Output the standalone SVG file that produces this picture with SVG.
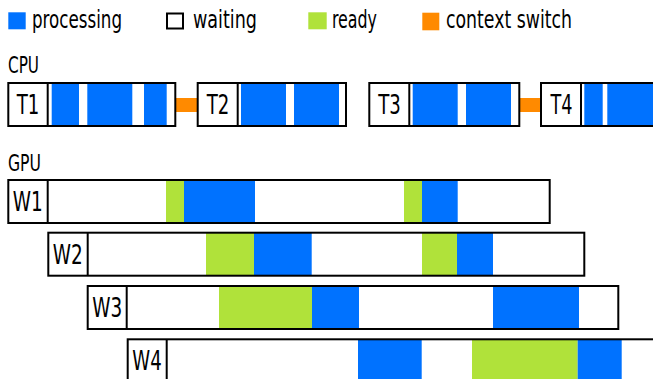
<svg xmlns="http://www.w3.org/2000/svg" width="653" height="379" viewBox="0 0 653 379">
<style>
text{font-family:"DejaVu Sans Condensed","DejaVu Sans",sans-serif;font-stretch:condensed;fill:#000}
.lg{font-size:24px}
.hd{font-size:22.5px}
.lb{font-size:27px;text-anchor:middle}
.p{fill:#0072ff}
.r{fill:#b0e23a}
.c{fill:#ff8a00}
.box{fill:none;stroke:#000;stroke-width:2}
.bg{fill:#fff}
.dv{stroke:#000;stroke-width:2}
</style>
<rect width="653" height="379" fill="#fff"/>
<g id="legend">
<rect class="p" x="8.3" y="12.3" width="17.4" height="17"/>
<text class="lg" x="32" y="28" textLength="90" lengthAdjust="spacingAndGlyphs">processing</text>
<rect x="167" y="13.5" width="16" height="15" fill="#fff" stroke="#000" stroke-width="2"/>
<text class="lg" x="193" y="28" textLength="64" lengthAdjust="spacingAndGlyphs">waiting</text>
<rect class="r" x="308.3" y="12.3" width="18.4" height="17"/>
<text class="lg" x="332" y="28" textLength="45" lengthAdjust="spacingAndGlyphs">ready</text>
<rect class="c" x="422.3" y="12.7" width="17" height="17.6"/>
<text class="lg" x="446" y="28" textLength="126" lengthAdjust="spacingAndGlyphs">context switch</text>
</g>
<text id="cpu-label" class="hd" x="8" y="73" textLength="31" lengthAdjust="spacingAndGlyphs">CPU</text>
<text id="gpu-label" class="hd" x="8" y="171" textLength="33" lengthAdjust="spacingAndGlyphs">GPU</text>
<g id="connectors">
<rect class="c" x="176" y="98" width="21" height="14"/>
<rect class="c" x="520" y="98" width="21" height="14"/>
</g>
<g id="T1">
<rect class="bg" x="8.3" y="83" width="167" height="43"/>
<rect class="p" x="51.7" y="83" width="27.3" height="43"/>
<rect class="p" x="87.3" y="83" width="45" height="43"/>
<rect class="p" x="144" y="83" width="22.7" height="43"/>
<rect class="box" x="8.3" y="83" width="167" height="43"/>
<line class="dv" x1="47.7" y1="83" x2="47.7" y2="126"/>
<text class="lb" x="28" y="114.3" textLength="22.6" lengthAdjust="spacingAndGlyphs">T1</text>
</g>
<g id="T2">
<rect class="bg" x="197.7" y="83" width="148.3" height="43"/>
<rect class="p" x="241" y="83" width="45" height="43"/>
<rect class="p" x="294" y="83" width="45" height="43"/>
<rect class="box" x="197.7" y="83" width="148.3" height="43"/>
<line class="dv" x1="237.7" y1="83" x2="237.7" y2="126"/>
<text class="lb" x="218" y="114.3" textLength="22.6" lengthAdjust="spacingAndGlyphs">T2</text>
</g>
<g id="T3">
<rect class="bg" x="369.3" y="83" width="150" height="43"/>
<rect class="p" x="412.7" y="83" width="45" height="43"/>
<rect class="p" x="466" y="83" width="45" height="43"/>
<rect class="box" x="369.3" y="83" width="150" height="43"/>
<line class="dv" x1="409.3" y1="83" x2="409.3" y2="126"/>
<text class="lb" x="389.6" y="114.3" textLength="22.6" lengthAdjust="spacingAndGlyphs">T3</text>
</g>
<g id="T4">
<rect class="bg" x="541" y="83" width="200" height="43"/>
<rect class="p" x="584.3" y="83" width="18.4" height="43"/>
<rect class="p" x="607.3" y="83" width="60" height="43"/>
<rect class="box" x="541" y="83" width="200" height="43"/>
<line class="dv" x1="581" y1="83" x2="581" y2="126"/>
<text class="lb" x="561.5" y="114.3" textLength="22" lengthAdjust="spacingAndGlyphs">T4</text>
</g>
<g id="W1">
<rect class="bg" x="8.3" y="180" width="542.4" height="43"/>
<rect class="r" x="166" y="180" width="18" height="43"/>
<rect class="p" x="184" y="180" width="71" height="43"/>
<rect class="r" x="404" y="180" width="18" height="43"/>
<rect class="p" x="422" y="180" width="35.7" height="43"/>
<rect class="box" x="8.3" y="180" width="541.4" height="43"/>
<line class="dv" x1="47.7" y1="180" x2="47.7" y2="223"/>
<text class="lb" x="27.7" y="210.7" textLength="30" lengthAdjust="spacingAndGlyphs">W1</text>
</g>
<g id="W2">
<rect class="bg" x="48.3" y="232.7" width="536" height="43"/>
<rect class="r" x="206" y="232.7" width="48" height="43"/>
<rect class="p" x="254" y="232.7" width="57.7" height="43"/>
<rect class="r" x="422" y="232.7" width="35" height="43"/>
<rect class="p" x="457" y="232.7" width="36" height="43"/>
<rect class="box" x="48.3" y="232.7" width="536" height="43"/>
<line class="dv" x1="87.7" y1="232.7" x2="87.7" y2="275.7"/>
<text class="lb" x="67.7" y="263.5" textLength="30" lengthAdjust="spacingAndGlyphs">W2</text>
</g>
<g id="W3">
<rect class="bg" x="87.7" y="286" width="530.6" height="43"/>
<rect class="r" x="219" y="286" width="93" height="43"/>
<rect class="p" x="312" y="286" width="47" height="43"/>
<rect class="p" x="493" y="286" width="86" height="43"/>
<rect class="box" x="87.7" y="286" width="530.6" height="43"/>
<line class="dv" x1="126.7" y1="286" x2="126.7" y2="329"/>
<text class="lb" x="107.2" y="316.8" textLength="30" lengthAdjust="spacingAndGlyphs">W3</text>
</g>
<g id="W4">
<rect class="bg" x="127.7" y="339.3" width="600" height="43"/>
<rect class="p" x="358" y="339.3" width="63.7" height="43"/>
<rect class="r" x="472" y="339.3" width="105.7" height="43"/>
<rect class="p" x="577.7" y="339.3" width="44" height="43"/>
<rect class="box" x="127.7" y="339.3" width="600" height="43"/>
<line class="dv" x1="166.7" y1="339.3" x2="166.7" y2="382.3"/>
<text class="lb" x="147" y="370" textLength="29.4" lengthAdjust="spacingAndGlyphs">W4</text>
</g>
</svg>
